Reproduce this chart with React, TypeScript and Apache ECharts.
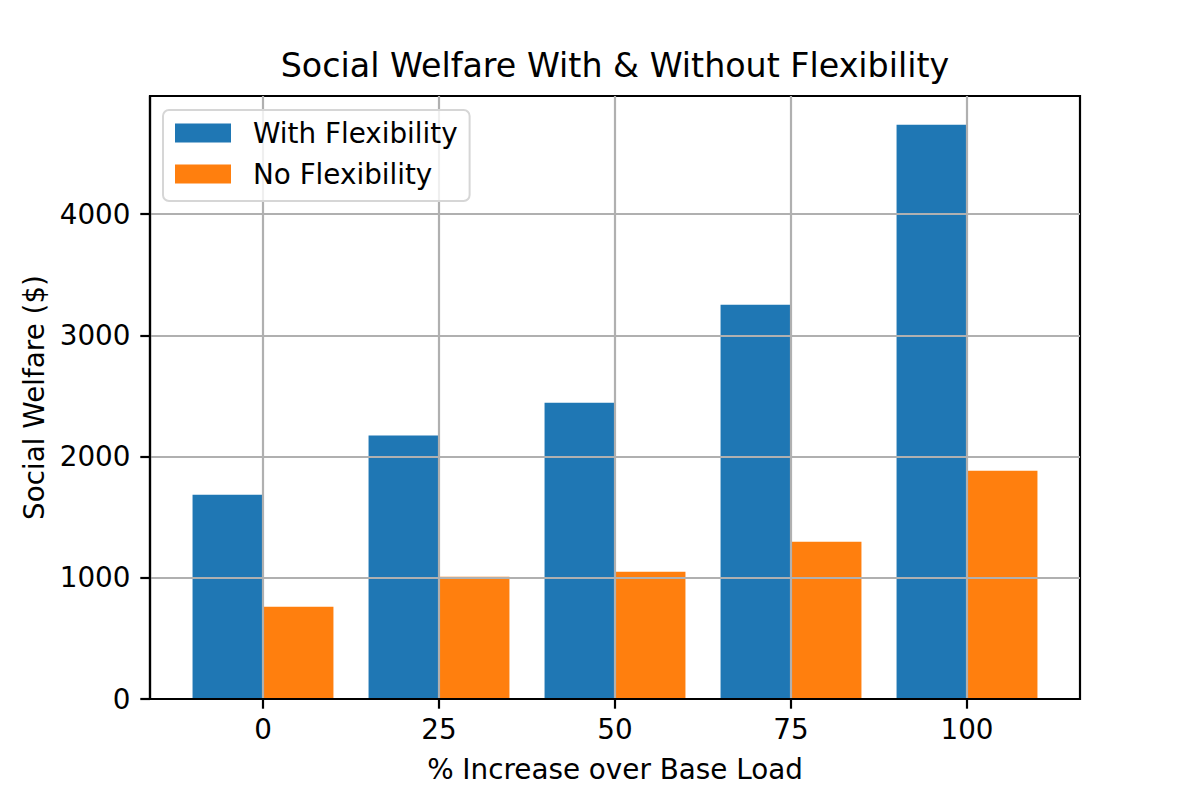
import React, { useEffect, useRef } from "react";
import * as echarts from "echarts";

const categories = [0, 25, 50, 75, 100];
const withFlex = [1685, 2174, 2445, 3252, 4738];
const noFlex = [761, 1008, 1050, 1297, 1883];
const yTicks = [0, 1000, 2000, 3000, 4000];
const seriesNames = ["With Flexibility", "No Flexibility"];

const FONT = "DejaVu Sans";

export default function App() {
  const ref = useRef<HTMLDivElement>(null);
  useEffect(() => {
    if (!ref.current) return;
    const chart = echarts.init(ref.current, undefined, { renderer: "svg" });
    const axisLineStyle = { color: "#000", width: 2.2 };
    const gridLine = { show: true, lineStyle: { color: "#b0b0b0", width: 2.2 } };
    chart.setOption({
      animation: false,
      backgroundColor: "#fff",
      grid: {
        left: 150,
        top: 96,
        width: 930,
        height: 603,
        show: true,
        borderColor: "#000",
        borderWidth: 2.2,
        backgroundColor: "transparent",
        containLabel: false,
      },
      graphic: [
        {
          type: "text",
          x: 615,
          y: 65,
          style: {
            text: "Social Welfare With & Without Flexibility",
            fontFamily: FONT,
            fontSize: 33.3,
            fill: "#000",
            align: "center",
            verticalAlign: "middle",
          },
        },
      ],
      legend: {
        orient: "vertical",
        left: 163,
        top: 110,
        padding: [8, 12, 12, 12],
        itemWidth: 56,
        itemHeight: 19,
        itemGap: 11,
        icon: "rect",
        selectedMode: false,
        backgroundColor: "rgba(255,255,255,0.8)",
        borderColor: "#d6d6d6",
        borderWidth: 2,
        borderRadius: 6,
        data: seriesNames,
        textStyle: {
          fontFamily: FONT,
          fontSize: 27.8,
          color: "#000",
          lineHeight: 30,
          padding: [0, 0, 0, 17],
        },
        z: 10,
      },
      xAxis: {
        type: "value",
        min: -16.05,
        max: 116.05,
        z: 3,
        name: "% Increase over Base Load",
        nameLocation: "middle",
        nameGap: 56,
        nameTextStyle: { fontFamily: FONT, fontSize: 27.8, color: "#000" },
        axisLine: { show: true, onZero: false, lineStyle: axisLineStyle },
        axisTick: { show: true, length: 9.7, lineStyle: axisLineStyle, customValues: categories },
        axisLabel: {
          fontFamily: FONT,
          fontSize: 27.8,
          color: "#000",
          margin: 16,
          customValues: categories,
          formatter: (v: number) => String(v),
        },
        splitLine: gridLine,
      },
      yAxis: {
        type: "value",
        min: 0,
        max: 4975,
        z: 3,
        name: "Social Welfare ($)",
        nameLocation: "middle",
        nameGap: 101,
        nameTextStyle: { fontFamily: FONT, fontSize: 27.8, color: "#000" },
        axisLine: { show: true, onZero: false, lineStyle: axisLineStyle },
        axisTick: { show: true, length: 9.7, lineStyle: axisLineStyle, customValues: yTicks },
        axisLabel: {
          fontFamily: FONT,
          fontSize: 27.8,
          color: "#000",
          margin: 19.5,
          customValues: yTicks,
          formatter: (v: number) => String(v),
        },
        splitLine: gridLine,
      },
      series: [
        {
          name: seriesNames[0],
          type: "bar",
          barWidth: 70.45,
          barGap: "0%",
          itemStyle: { color: "#1f77b4" },
          data: categories.map((c, i) => [c, withFlex[i]]),
        },
        {
          name: seriesNames[1],
          type: "bar",
          barWidth: 70.45,
          barGap: "0%",
          itemStyle: { color: "#ff7f0e" },
          data: categories.map((c, i) => [c, noFlex[i]]),
        },
      ],
    });
    return () => chart.dispose();
  }, []);
  return (
    <div
      ref={ref}
      style={{ position: "absolute", left: 0, top: 0, width: 1200, height: 800 }}
    />
  );
}
